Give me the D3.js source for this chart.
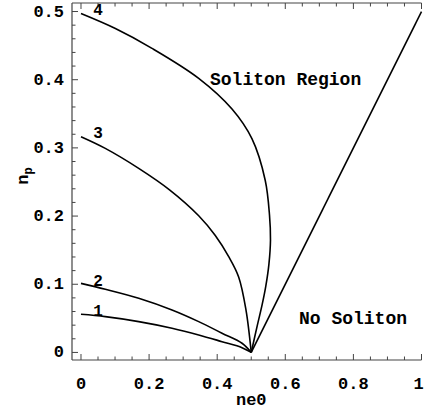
<!DOCTYPE html>
<html><head><meta charset="utf-8">
<script src="https://cdn.jsdelivr.net/npm/d3@7"></script>
<style>
html,body{margin:0;padding:0;background:#fff;}
svg{display:block;}
text{font-family:"Liberation Mono","Courier New",monospace;font-weight:bold;fill:#000;}
</style></head>
<body>
<svg id="chart" width="425" height="411"></svg>
<script>
// Curve data (ne0, n_p)
const curve1 = [[0,0.0559],[0.0714,0.0525],[0.1695,0.0452],[0.2673,0.0355],[0.3457,0.0257],[0.4141,0.0158],[0.4729,0.0070],[0.5,0]];
const curve2 = [[0,0.1013],[0.0714,0.0927],[0.1695,0.0795],[0.2673,0.0623],[0.3457,0.0452],[0.4141,0.0282],[0.4729,0.0135],[0.5,0]];
const curve3 = [[0,0.3164],[0.0714,0.2993],[0.1695,0.2700],[0.26,0.2385],[0.3457,0.2005],[0.3944,0.1715],[0.4338,0.1405],[0.463,0.1107],[0.4846,0.0622],[0.5,0]];
const curve4 = [[0,0.497],[0.101,0.475],[0.2085,0.446],[0.3457,0.402],[0.4435,0.357],[0.502,0.3135],[0.541,0.2526],[0.5536,0.2016],[0.5565,0.165],[0.552,0.130],[0.543,0.098],[0.532,0.070],[0.518,0.040],[0.5,0]];
const boundary = [[0.5,0],[1,0.5]];
const curves = [curve1, curve2, curve3, curve4, boundary];
const curveLabels = ["1","2","3","4"];
const curveLabelY = [0.062,0.106,0.323,0.503];
const xTicks = [0,0.2,0.4,0.6,0.8,1];
const xTickLabels = ["0","0.2","0.4","0.6","0.8","1"];
const yTicks = [0,0.1,0.2,0.3,0.4,0.5];
const yTickLabels = ["0","0.1","0.2","0.3","0.4","0.5"];

const svg = d3.select("#chart");
const pLeft = 72, pRight = 421.5, pTop = 3, pBottom = 360;
const x = d3.scaleLinear().domain([-0.0264, 1]).range([pLeft, pRight]);
const y = d3.scaleLinear().domain([-0.0111, 0.5125]).range([pBottom, pTop]);

const frameColor = "#444";
svg.append("line").attr("x1",pLeft).attr("x2",pLeft).attr("y1",pTop).attr("y2",pBottom).attr("stroke",frameColor).attr("stroke-width",1.2);
svg.append("line").attr("x1",pLeft).attr("x2",pRight).attr("y1",pBottom).attr("y2",pBottom).attr("stroke",frameColor).attr("stroke-width",1.2);
svg.append("line").attr("x1",pLeft).attr("x2",pRight).attr("y1",pTop).attr("y2",pTop).attr("stroke",frameColor).attr("stroke-width",1.2);

const xMinor = d3.range(0, 1.0001, 0.05);
xMinor.forEach(v => {
  const major = Math.abs(Math.round(v*5) - v*5) < 1e-6;
  const len = major ? 6 : 3.5;
  svg.append("line").attr("x1",x(v)).attr("x2",x(v)).attr("y1",pBottom).attr("y2",pBottom-len).attr("stroke",frameColor).attr("stroke-width",1);
  svg.append("line").attr("x1",x(v)).attr("x2",x(v)).attr("y1",pTop).attr("y2",pTop+len).attr("stroke",frameColor).attr("stroke-width",1);
});
const yMinor = d3.range(0, 0.5001, 0.02);
yMinor.forEach(v => {
  const major = Math.abs(Math.round(v*10) - v*10) < 1e-6;
  const len = major ? 6 : 3.5;
  svg.append("line").attr("x1",pLeft).attr("x2",pLeft+len).attr("y1",y(v)).attr("y2",y(v)).attr("stroke",frameColor).attr("stroke-width",1);
});

svg.selectAll(".xt").data(xTicks).enter().append("text")
  .attr("x", d => Math.min(x(d), 418.5)).attr("y", 389).attr("text-anchor","middle")
  .attr("font-size", 17).text((d,i) => xTickLabels[i]);
svg.selectAll(".yt").data(yTicks).enter().append("text")
  .attr("x", 64).attr("y", d => y(d)+5).attr("text-anchor","end")
  .attr("font-size", 17).text((d,i) => yTickLabels[i]);

svg.append("text").attr("x", x(0.5)).attr("y", 405).attr("text-anchor","middle").attr("font-size",17).text("ne0");
const yl = svg.append("text").attr("transform","translate(28,176) rotate(-90)").attr("text-anchor","middle").attr("font-size",17);
yl.append("tspan").text("n");
yl.append("tspan").attr("dy",4).attr("font-size",12).text("p");

const line = d3.line().x(d => x(d[0])).y(d => y(d[1])).curve(d3.curveCatmullRom.alpha(0.5));
svg.selectAll(".c").data(curves).enter().append("path")
  .attr("d", line).attr("fill","none").attr("stroke","#000").attr("stroke-width",1.6);

svg.selectAll(".cl").data(curveLabels).enter().append("text")
  .attr("x", x(0.05)).attr("y", (d,i) => y(curveLabelY[i]) + 6).attr("text-anchor","middle")
  .attr("font-size", 16).text(d => d);

svg.append("text").attr("x", 210).attr("y", 85).attr("font-size", 18).text("Soliton Region");
svg.append("text").attr("x", 299).attr("y", 324).attr("font-size", 18).text("No Soliton");
</script>
</body></html>
